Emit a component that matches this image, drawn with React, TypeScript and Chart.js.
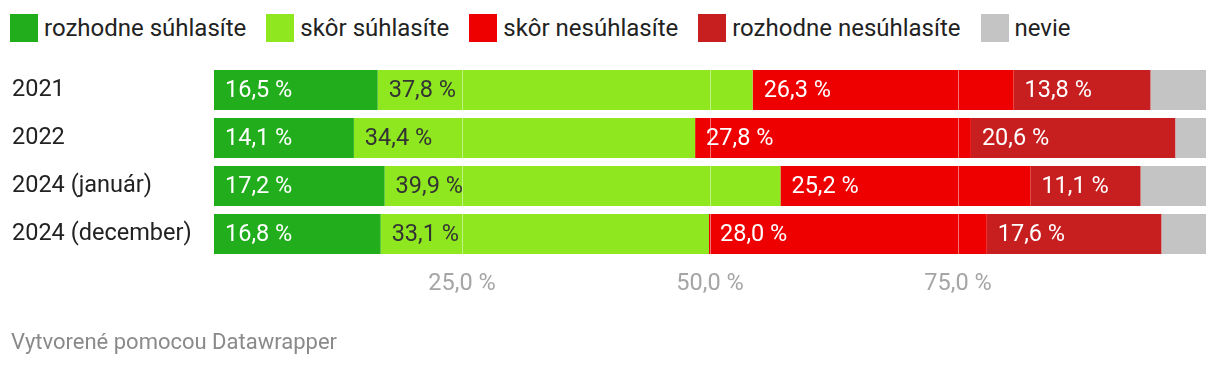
import React, { useEffect, useRef } from 'react';
import { Chart, registerables } from 'chart.js';

Chart.register(...registerables);

const categories = ['2021', '2022', '2024 (január)', '2024 (december)'];
const seriesNames = ['rozhodne súhlasíte', 'skôr súhlasíte', 'skôr nesúhlasíte', 'rozhodne nesúhlasíte', 'nevie'];
const rozhodneSuhlasite = [16.5, 14.1, 17.2, 16.8];
const skorSuhlasite = [37.8, 34.4, 39.9, 33.1];
const skorNesuhlasite = [26.3, 27.8, 25.2, 28.0];
const rozhodneNesuhlasite = [13.8, 20.6, 11.1, 17.6];
const nevie = [5.6, 3.1, 6.6, 4.5];
const xTicks = [25, 50, 75];

const seriesValues = [rozhodneSuhlasite, skorSuhlasite, skorNesuhlasite, rozhodneNesuhlasite, nevie];
const colors = ['#22ae1c', '#8ee71f', '#ee0000', '#c71e1f', '#c4c4c4'];
const labelColors: (string | null)[] = ['#ffffff', '#333333', '#ffffff', '#ffffff', null];

const FONT = 'Roboto';
const fmt = (v: number) => v.toFixed(1).replace('.', ',') + ' %';

const overlayPlugin = {
  id: 'overlay',
  afterDatasetsDraw(chart: any) {
    const { ctx, chartArea, scales } = chart;
    ctx.save();
    ctx.strokeStyle = 'rgba(255,255,255,0.45)';
    ctx.lineWidth = 1;
    xTicks.forEach((v) => {
      const x = Math.round(scales.x.getPixelForValue(v)) + 0.5;
      ctx.beginPath();
      ctx.moveTo(x, chartArea.top);
      ctx.lineTo(x, chartArea.bottom);
      ctx.stroke();
    });
    ctx.font = `23.5px ${FONT}`;
    ctx.textBaseline = 'middle';
    ctx.textAlign = 'left';
    chart.data.datasets.forEach((ds: any, i: number) => {
      const color = labelColors[i];
      if (!color) return;
      const meta = chart.getDatasetMeta(i);
      meta.data.forEach((el: any, j: number) => {
        const p = el.getProps(['x', 'y', 'base'], true);
        ctx.fillStyle = color;
        ctx.fillText(fmt(ds.data[j]), Math.min(p.base, p.x) + 11, p.y + 1);
      });
    });
    ctx.restore();
  },
};

export default function App() {
  const ref = useRef<HTMLCanvasElement | null>(null);

  useEffect(() => {
    if (!ref.current) return;
    const chart = new Chart(ref.current, {
      type: 'bar',
      data: {
        labels: categories,
        datasets: seriesNames.map((name, i) => ({
          label: name,
          data: seriesValues[i],
          backgroundColor: colors[i],
          borderWidth: 0,
          barPercentage: 1,
          categoryPercentage: 40 / 48,
        })),
      },
      options: {
        indexAxis: 'y',
        animation: false,
        responsive: false,
        devicePixelRatio: 1,
        layout: { padding: { left: 12, right: 14, top: 66, bottom: 68 } },
        plugins: {
          legend: { display: false },
          tooltip: { enabled: false },
        },
        scales: {
          x: {
            stacked: true,
            min: 0,
            max: 100,
            grid: { display: false },
            border: { display: false },
            afterBuildTicks: (scale: any) => {
              scale.ticks = xTicks.map((v) => ({ value: v }));
            },
            afterFit: (scale: any) => {
              scale.height = 40;
            },
            ticks: {
              color: '#a5a5a5',
              font: { family: FONT, size: 23.5 },
              padding: 4,
              maxRotation: 0,
              callback: (v: any) => fmt(Number(v)),
            },
          },
          y: {
            stacked: true,
            grid: { display: false },
            border: { display: false },
            afterFit: (scale: any) => {
              scale.width = 202;
            },
            ticks: {
              color: '#222222',
              crossAlign: 'far',
              font: { family: FONT, size: 23.5 },
            },
          },
        },
      },
      plugins: [overlayPlugin],
    } as any);
    return () => chart.destroy();
  }, []);

  return (
    <div style={{ position: 'absolute', left: 0, top: 0, width: 1220, height: 366, background: '#fff', fontFamily: FONT, overflow: 'hidden' }}>
      <div style={{ position: 'absolute', left: 10, top: 14, display: 'flex', alignItems: 'center', height: 28 }}>
        {seriesNames.map((name, i) => (
          <div key={name} style={{ display: 'flex', alignItems: 'center', marginRight: 20 }}>
            <div style={{ width: 28, height: 28, background: colors[i] }} />
            <span style={{ marginLeft: 6, fontSize: 24, color: '#222', lineHeight: '28px', whiteSpace: 'nowrap' }}>{name}</span>
          </div>
        ))}
      </div>
      <canvas ref={ref} width={1220} height={366} style={{ position: 'absolute', left: 0, top: 0, width: 1220, height: 366 }} />
      <div style={{ position: 'absolute', left: 11, top: 329, fontSize: 22, lineHeight: '26px', color: '#8a8a8a', whiteSpace: 'nowrap' }}>
        Vytvorené pomocou Datawrapper
      </div>
    </div>
  );
}
